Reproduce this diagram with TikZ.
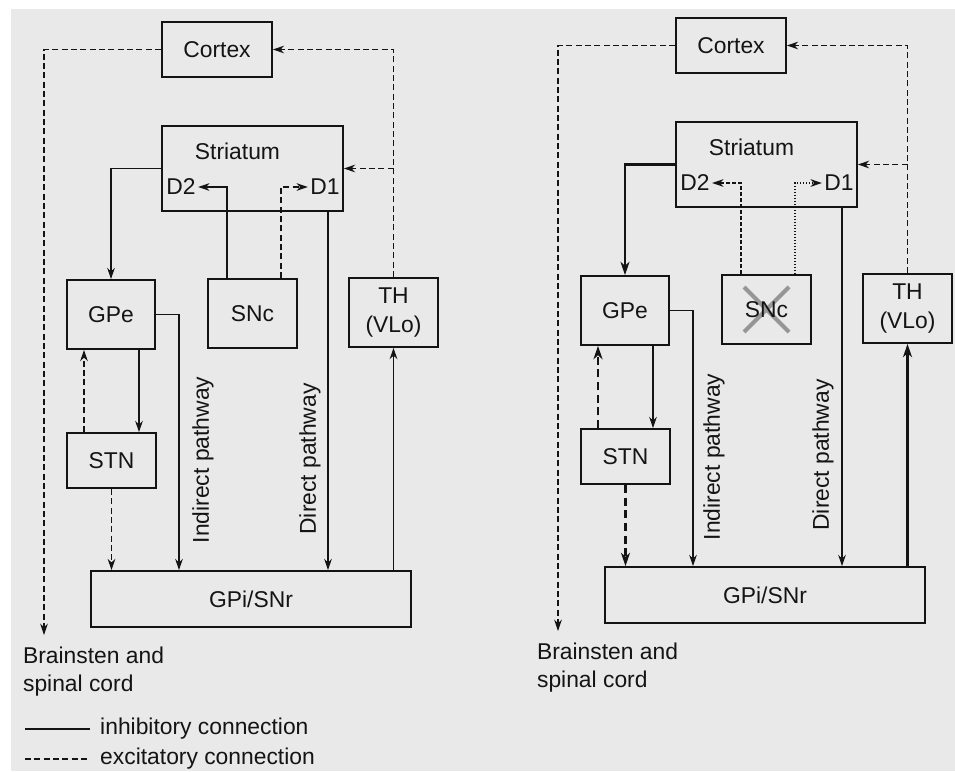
\documentclass[tikz,border=0pt]{standalone}
\usepackage{fontspec}
\setmainfont{Liberation Sans}
\usepackage{tikz}
\usetikzlibrary{arrows.meta}
\definecolor{papel}{RGB}{233,233,233}
\definecolor{tinta}{RGB}{20,20,20}
\definecolor{cruz}{RGB}{150,150,150}
\newcommand{\lbl}{\fontsize{19.5pt}{24pt}\selectfont}

\begin{document}
\begin{tikzpicture}[
  x=0.3mm, y=-0.3mm,
  region/.style={draw=tinta, line width=1.5pt, inner sep=0pt,
                 font=\lbl, text=tinta, align=center},
  txt/.style={font=\lbl, text=tinta, inner sep=2pt},
  keytxt/.style={txt, anchor=west, inner xsep=3mm},
  inh/.style={draw=tinta, line width=1pt,
              -{Stealth[length=3.4mm, width=2.3mm, inset=1.1mm]}},
  exc/.style={inh, dash pattern=on 1.8mm off 1mm},
  inhheavy/.style={inh, line width=2.2pt,
                   -{Stealth[length=4mm, width=2.7mm, inset=1.2mm]}},
  excheavy/.style={inhheavy, dash pattern=on 2.4mm off 1.4mm},
  dotty/.style={inh, line width=1.2pt, dash pattern=on 0.35mm off 0.55mm}
]

% Papel escaneado
\fill[papel] (0,0) rectangle (955,771);
\fill[white] (0,0) rectangle (955,9);
\fill[white] (0,0) rectangle (11,771);
\useasboundingbox (0,0) rectangle (955,771);

% ---------- Esquema normal ----------
\node[region, minimum width=33mm, minimum height=16.5mm] (cortexL) at (217,49.5) {Cortex};
\node[region, minimum width=54.3mm, minimum height=25.5mm] (striatumL) at (252.5,168.5) {};
\node[txt] (strtxtL) at (237.5,151) {Striatum};
\node[txt] (d2L) at (181,187) {D2};
\node[txt] (d1L) at (325,187) {D1};
\node[region, minimum width=26.4mm, minimum height=20.7mm] (gpeL) at (111,314.5) {GPe};
\node[region, minimum width=26.7mm, minimum height=20.7mm] (sncL) at (252.5,313.5) {SNc};
\node[region, minimum width=26.7mm, minimum height=20.7mm] (thL) at (393.5,312.5) {TH\\(VLo)};
\node[region, minimum width=26.7mm, minimum height=16.5mm] (stnL) at (111.5,460.5) {STN};
\node[region, minimum width=96mm, minimum height=16.8mm] (gpiL) at (251,599) {GPi/SNr};
\node[txt, align=left, anchor=north west, inner ysep=3.6mm] (brainL) at (20.5,635) {Brainsten and\\spinal cord};

\draw[exc] (cortexL.west) -| (44,0 |- brainL.north);
\draw[exc] (thL.north) |- (cortexL.east);
\draw[exc] (thL.north |- striatumL.east) -- (striatumL.east);
\draw[inh] (striatumL.west) -| (gpeL.north);
\draw[inh] (227,0 |- sncL.north) |- (d2L.east);
\draw[exc] (281,0 |- sncL.north) |- (d1L.west);
\draw[inh] (328,0 |- striatumL.south) -- (328,0 |- gpiL.north);
\draw[inh] (gpeL.east) -| (179,0 |- gpiL.north);
\draw[inh] (139,0 |- gpeL.south) -- (139,0 |- stnL.north);
\draw[exc] (84,0 |- stnL.north) -- (84,0 |- gpeL.south);
\draw[exc] (stnL.south) -- (stnL.south |- gpiL.north);
\draw[inh] (thL.south |- gpiL.north) -- (thL.south);

\node[txt, rotate=90] (indL) at (203,460) {Indirect pathway};
\node[txt, rotate=90] (dirL) at (310,459) {Direct pathway};

% Leyenda
\coordinate (inhstart) at (25,729);
\coordinate (excstart) at (25,759);
\node[keytxt] (inhkey) at (90,729) {inhibitory connection};
\node[keytxt] (exckey) at (90,759) {excitatory connection};
\draw[draw=tinta, line width=1pt] (inhstart) -- (inhkey.west);
\draw[draw=tinta, line width=1pt, dash pattern=on 1.8mm off 1mm] (excstart) -- (exckey.west);

% ---------- Esquema sin SNc ----------
\begin{scope}[shift={(514,-4)}]
\draw[cruz, line width=3.4pt] (230,291) -- (275,336) (275,291) -- (230,336);

\node[region, minimum width=33mm, minimum height=16.5mm] (cortexR) at (217,49.5) {Cortex};
\node[region, minimum width=54.3mm, minimum height=25.5mm] (striatumR) at (252.5,168.5) {};
\node[txt] (strtxtR) at (237.5,151) {Striatum};
\node[txt] (d2R) at (181,187) {D2};
\node[txt] (d1R) at (325,187) {D1};
\node[region, minimum width=26.4mm, minimum height=20.7mm] (gpeR) at (111,314.5) {GPe};
\node[region, minimum width=26.7mm, minimum height=20.7mm] (sncR) at (252.5,313.5) {SNc};
\node[region, minimum width=26.7mm, minimum height=20.7mm] (thR) at (393.5,312.5) {TH\\(VLo)};
\node[region, minimum width=26.7mm, minimum height=16.5mm] (stnR) at (111.5,460.5) {STN};
\node[region, minimum width=96mm, minimum height=16.8mm] (gpiR) at (251,599) {GPi/SNr};
\node[txt, align=left, anchor=north west, inner ysep=3.6mm] (brainR) at (20.5,635) {Brainsten and\\spinal cord};

\draw[exc] (cortexR.west) -| (44,0 |- brainR.north);
\draw[exc] (thR.north) |- (cortexR.east);
\draw[exc] (thR.north |- striatumR.east) -- (striatumR.east);
\draw[inhheavy] (striatumR.west) -| (gpeR.north);
\draw[exc, dash pattern=on 1.2mm off 0.6mm] (227,0 |- sncR.north) |- (d2R.east);
\draw[dotty] (281,0 |- sncR.north) |- (d1R.west);
\draw[inh] (328,0 |- striatumR.south) -- (328,0 |- gpiR.north);
\draw[inh] (gpeR.east) -| (179,0 |- gpiR.north);
\draw[inh] (139,0 |- gpeR.south) -- (139,0 |- stnR.north);
\draw[excheavy] (84,0 |- stnR.north) -- (84,0 |- gpeR.south);
\draw[excheavy] (stnR.south) -- (stnR.south |- gpiR.north);
\draw[inhheavy] (thR.south |- gpiR.north) -- (thR.south);

\node[txt, rotate=90] (indR) at (200,461) {Indirect pathway};
\node[txt, rotate=90] (dirR) at (309,459) {Direct pathway};
\end{scope}
\end{tikzpicture}
\end{document}
